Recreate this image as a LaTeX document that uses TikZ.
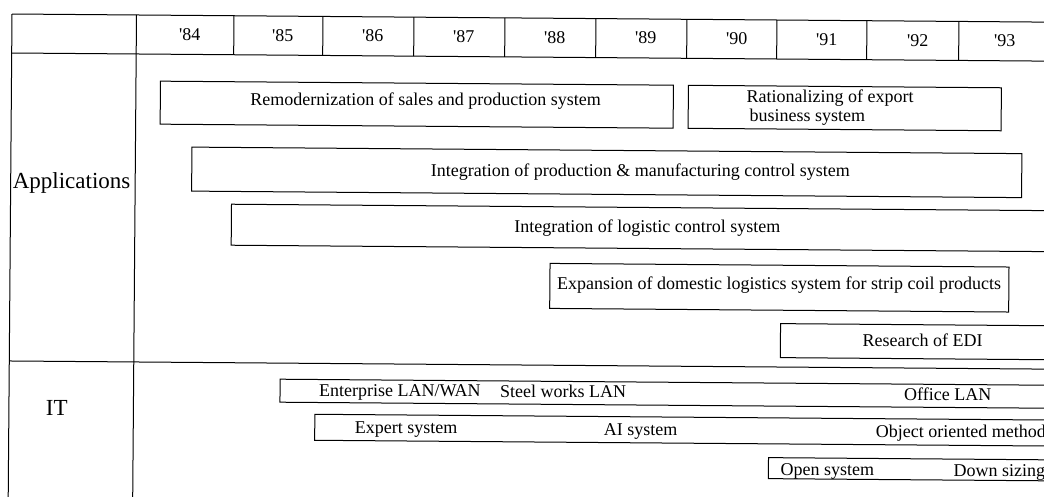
\documentclass[tikz,border=0pt]{standalone}
\usepackage{fontspec}
\setmainfont{Liberation Serif}
\tikzset{
  rule/.style={line width=1pt},
  bar/.style={line width=1pt},
  txt/.style={font=\fontsize{18}{19}\selectfont, inner sep=0pt, anchor=base west},
  yr/.style={font=\fontsize{18}{19}\selectfont, inner sep=0pt, anchor=base},
  head/.style={font=\fontsize{23}{25}\selectfont, inner sep=0pt, anchor=base west},
}
\begin{document}
\begin{tikzpicture}[x=1pt,y=-1pt]
\useasboundingbox (0,0) rectangle (1044,496);
\begin{scope}[rotate around={-0.45:(12,14)}]
% table frame
\draw[rule] (12,14) -- (1070,14);
\draw[rule] (12,53) -- (1070,53);
\draw[rule] (12,361) -- (1070,361);
\draw[rule] (12,14) -- (12,520);
\draw[rule] (136.5,14) -- (136.5,520);
\foreach \x in {234,323,414,505,596,687,777,867,959}
  \draw[rule] (\x,14) -- (\x,53);
% years
\node[yr] (y84) at (190,39) {\textquotesingle 84};
\node[yr] (y85) at (283,39) {\textquotesingle 85};
\node[yr] (y86) at (373,39) {\textquotesingle 86};
\node[yr] (y87) at (464,39) {\textquotesingle 87};
\node[yr] (y88) at (555,39) {\textquotesingle 88};
\node[yr] (y89) at (646,39) {\textquotesingle 89};
\node[yr] (y90) at (737,39) {\textquotesingle 90};
\node[yr] (y91) at (827,39) {\textquotesingle 91};
\node[yr] (y92) at (918,39) {\textquotesingle 92};
\node[yr] (y93) at (1005,39) {\textquotesingle 93};
% row heads
\node[head] (apps) at (14,188) {Applications};
\node[head,anchor=base] (it) at (60,415) {IT};
% application bars
\draw[bar] (161,80) rectangle (674,123);
\node[txt] (remod) at (251,104) {Remodernization of sales and production system};
\draw[bar] (689,80) rectangle (1002,123);
\node[txt,align=left,anchor=north west] (ration) at (747,84)
  {Rationalizing of export\\\hspace{3pt}business system};
\draw[bar] (193,145.7) rectangle (1023,189.7);
\node[txt] (intprod) at (432,173) {Integration of production \& manufacturing control system};
\draw[bar] (1070,202.5) -| (233,243.5) -- (1070,243.5);
\node[txt] (intlog) at (516,228.5) {Integration of logistic control system};
\draw[bar] (552,259.2) rectangle (1011,304.2);
\node[txt] (expan) at (559,285) {Expansion of domestic logistics system for strip coil products};
\draw[bar] (1070,317.6) -| (783,351.6) -- (1070,351.6);
\node[txt] (edi) at (865,339.6) {Research of EDI};
% IT bars
\draw[bar] (1070,377.1) -| (283,400.1) -- (1070,400.1);
\node[txt] (lanwan) at (322,394) {Enterprise LAN/WAN};
\node[txt] (steel) at (503,394) {Steel works LAN};
\node[txt] (office) at (907,394) {Office LAN};
\draw[bar] (1070,411.9) -| (318,437.9) -- (1070,437.9);
\node[txt] (expert) at (358,431) {Expert system};
\node[txt] (ai) at (607,431) {AI system};
\node[txt] (oom) at (879,431) {Object oriented method};
\draw[bar] (1070,451.7) -| (772,472.7) -- (1070,472.7);
\node[txt] (open) at (784,469) {Open system};
\node[txt] (down) at (957,469) {Down sizing};
\end{scope}
\end{tikzpicture}
\end{document}
